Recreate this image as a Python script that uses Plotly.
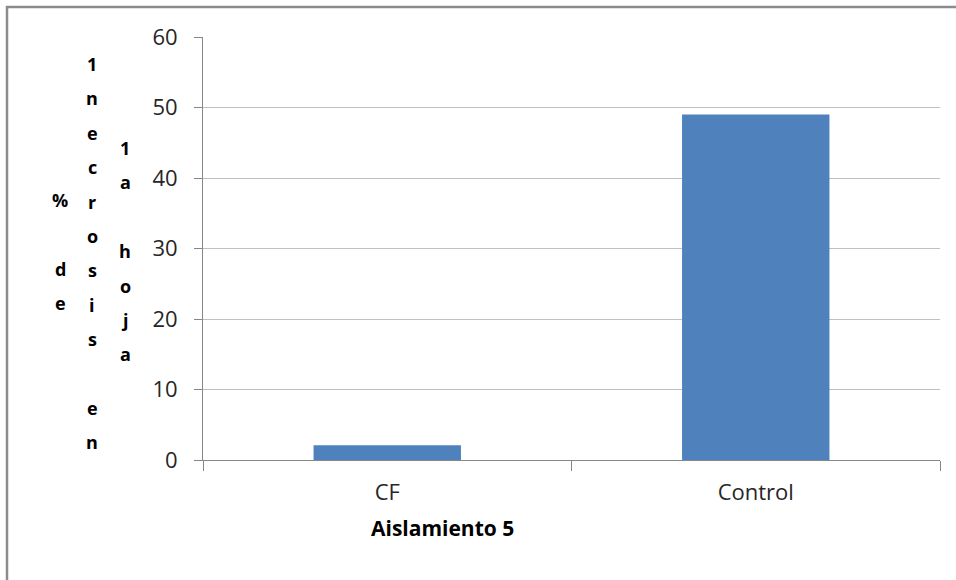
import plotly.graph_objects as go

categories = ["CF", "Control"]
values = [2.1, 49]
y_ticks = [0, 10, 20, 30, 40, 50, 60]

# y-axis title letters as they appear in columns
col1 = ["%", "", "d", "e"]
col2 = ["1", "n", "e", "c", "r", "o", "s", "i", "s", "", "e", "n"]
col3 = ["1", "a", "", "h", "o", "j", "a"]

L, T, W, H = 203, 37, 956, 580
PW, PH = 940 - 203, 460 - 37

def px(x):
    return (x - L) / PW

def py(y):
    return (460 - y) / PH

fig = go.Figure(go.Bar(x=categories, y=values, marker=dict(color="#4F81BD", line=dict(width=0)), width=0.4))

annotations = []
step = 34.4
for col, x0, y0 in [(col1, 60, 200), (col2, 92, 64), (col3, 125, 148)]:
    for i, ch in enumerate(col):
        if not ch:
            continue
        annotations.append(dict(text="<b>" + ch + "</b>", x=px(x0), y=py(y0 + i * step), xref="paper", yref="paper",
                                showarrow=False, xanchor="center", yanchor="middle",
                                font=dict(family="Open Sans", size=18, color="#000000")))

annotations.append(dict(text="<b>Aislamiento 5</b>", x=px(442), y=py(528), xref="paper", yref="paper",
                        showarrow=False, xanchor="center", yanchor="middle",
                        font=dict(family="Open Sans", size=21, color="#000000")))

fig.update_layout(
    width=W, height=H,
    margin=dict(l=L, r=W - 940, t=T, b=H - 460),
    plot_bgcolor="white", paper_bgcolor="white",
    showlegend=False,
    bargap=0.6,
    font=dict(family="Open Sans", size=21, color="#262626"),
    xaxis=dict(type="category", tickson="boundaries", ticks="outside", ticklen=10, tickcolor="#868686",
               showline=True, linecolor="#868686", linewidth=1, showgrid=False, ticklabelstandoff=13,
               tickfont=dict(family="Open Sans", size=22, color="#262626")),
    yaxis=dict(range=[0, 60], tickvals=y_ticks, ticks="outside", ticklen=8, tickcolor="#868686",
               showline=True, linecolor="#868686", linewidth=1, ticklabelstandoff=12,
               showgrid=True, gridcolor="#C0C0C0", gridwidth=1, zeroline=False,
               tickfont=dict(family="Open Sans", size=22, color="#262626")),
    annotations=annotations,
    shapes=[dict(type="rect", xref="paper", yref="paper", x0=px(7), y0=py(7), x1=px(1000), y1=py(700),
                 line=dict(color="#8C8C8C", width=2.5), fillcolor="rgba(0,0,0,0)", layer="above")],
)

fig.write_html("out.html")
